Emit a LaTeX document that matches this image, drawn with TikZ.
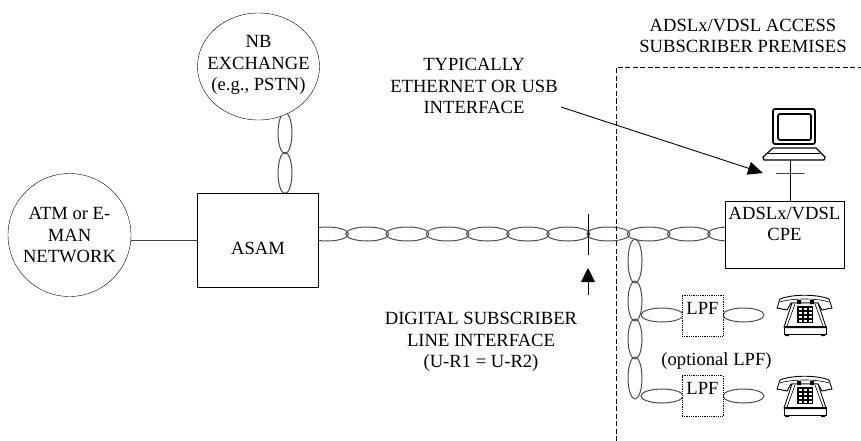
\documentclass[tikz,border=0pt]{standalone}
\usepackage{fontspec}
\setmainfont{Liberation Serif}
\usetikzlibrary{arrows.meta,positioning,shapes.geometric}

\tikzset{
  lbl/.style={align=center,inner sep=0pt,font=\fontsize{18.6}{21.5}\selectfont},
  boxnode/.style={draw,fill=white,inner sep=0pt},
  lpfbox/.style={draw,fill=white,densely dotted,thick,minimum width=41pt,minimum height=41pt,inner sep=0pt},
  twist/.style={draw=black!70,line width=1pt,fill=none},
  phone/.pic={
    \draw[line width=0.9pt,fill=white] (0,13) -- (3,4) .. controls (15,-1) and (40,-1) .. (52,4) -- (55,13) -- (45,15) -- (41,8) -- (14,8) -- (10,15) -- cycle;
    \draw[line width=0.6pt] (3,7) .. controls (15,3) and (40,3) .. (52,7);
    \draw[line width=0.9pt,fill=white] (15,8) -- (41,8) -- (49,32) -- (7,32) -- cycle;
    \draw[line width=0.6pt] (18,9) -- (10,31) (38,9) -- (46,31);
    \fill (20,5) rectangle (24,9) (33,5) rectangle (37,9);
    \draw[line width=0.9pt,fill=white] (7,31) rectangle (49,39);
    \fill (7,31) rectangle (49,33) (8,39) rectangle (12,41) (44,39) rectangle (48,41);
    \fill (20,11) rectangle (36,28);
    \foreach \kx in {21.5,26.5,31.5} \foreach \ky in {12.5,16.5,20.5,24.5}
      \fill[white] (\kx,\ky) rectangle ++(3,2);
  },
}

\begin{document}
\begin{tikzpicture}[x=1pt,y=-1pt,>=Latex]
  \useasboundingbox (0,0) rectangle (861,441);
  % twisted pairs
  \foreach \x in {327,367.2,...,730} \draw[twist] (\x,234) ellipse (21.5 and 7);
  \foreach \y in {133,173} \draw[twist] (285,\y) ellipse (7 and 20.5);
  \foreach \y/\r in {261/22,301/20,339/20,378/21} \draw[twist] (635,\y) ellipse (7 and \r);
  \foreach \y in {315,396} {
    \draw[twist] (662,\y) ellipse (21 and 7);
    \draw[twist] (743.5,\y) ellipse (20.5 and 7);
  }
  % network side
  \node[boxnode,ellipse,minimum width=123pt,minimum height=123pt] (atm) at (69.5,235) {};
  \node[lbl] (atmtext) at (69.5,235) {ATM or E-\\MAN\\NETWORK};
  \node[boxnode,ellipse,minimum width=122pt,minimum height=107pt] (nb) at (258.5,66.5) {};
  \node[lbl] (nbtext) at (258.5,65) {NB\\EXCHANGE\\(e.g., PSTN)};
  \node[boxnode,minimum width=121pt,minimum height=94pt] (asam) at (257.5,240) {};
  \node[lbl] (asamtext) at (258,248) {ASAM};
  \draw[line width=0.9pt,black!75] (asam.west -| atm.east) -- (asam.west);
  % subscriber premises
  \coordinate (premtop) at (616,67.5);
  \coordinate (premleft) at (616,441);
  \coordinate (premright) at (861,67.5);
  \draw[dash pattern=on 5pt off 2.5pt,line width=0.9pt] (premleft) -- (premtop) -- (premright);
  \node[lbl] (premtext) at (743,36) {ADSLx/VDSL ACCESS\\SUBSCRIBER PREMISES};
  \node[boxnode,minimum width=119pt,minimum height=67pt] (cpe) at (784.5,234.5) {};
  \node[lbl] (cpetext) at (784.5,224) {ADSLx/VDSL\\CPE};
  \node[lpfbox] (lpfa) at (702.5,315.5) {};
  \node[lbl] (lpfatext) at (702.5,308) {LPF};
  \node[lpfbox] (lpfb) at (702.5,396) {};
  \node[lbl] (lpfbtext) at (702.5,388) {LPF};
  \node[lbl] (opttext) at (716.5,361) {(optional LPF)};
  \pic at (777,295) {phone};
  \pic at (777,376) {phone};
  % computer
  \draw[line width=1.7pt,rounded corners=2pt] (773,109) rectangle (815,144);
  \draw[line width=1.7pt,rounded corners=2pt] (778,114) rectangle (811,140);
  \draw[line width=1.2pt] (773,148) -- (816,148) -- (825,157) -- (824,160) -- (764,160) -- (763,157) -- cycle;
  \draw[line width=1pt] (768,153.5) -- (820,153.5);
  \coordinate (pcbase) at (790.5,160);
  \coordinate (pctickl) at (776,173.5);
  \coordinate (pctickr) at (803.5,173.5);
  \draw (pcbase) -- (pcbase |- cpe.north);
  \draw[line width=0.9pt,black!75] (pctickl) -- (pctickr);
  % interface labels
  \node[lbl] (usbtext) at (474,86) {TYPICALLY\\ETHERNET OR USB\\INTERFACE};
  \coordinate (usbtail) at (561,107);
  \coordinate (usbtip) at (763,173);
  \draw[-{Triangle[length=15pt,width=13pt]},line width=0.9pt] (usbtail) -- (usbtip);
  \coordinate (utop) at (588,214);
  \coordinate (ubot) at (588,255);
  \draw[line width=0.9pt] (utop) -- (ubot);
  \coordinate (uarrowtail) at (588,295);
  \coordinate (uarrowtip) at (588,268);
  \draw[-{Triangle[length=14pt,width=14pt]},line width=0.9pt] (uarrowtail) -- (uarrowtip);
  \node[lbl] (dsltext) at (481,342) {DIGITAL SUBSCRIBER\\LINE INTERFACE\\(U-R1 = U-R2)};
\end{tikzpicture}
\end{document}
